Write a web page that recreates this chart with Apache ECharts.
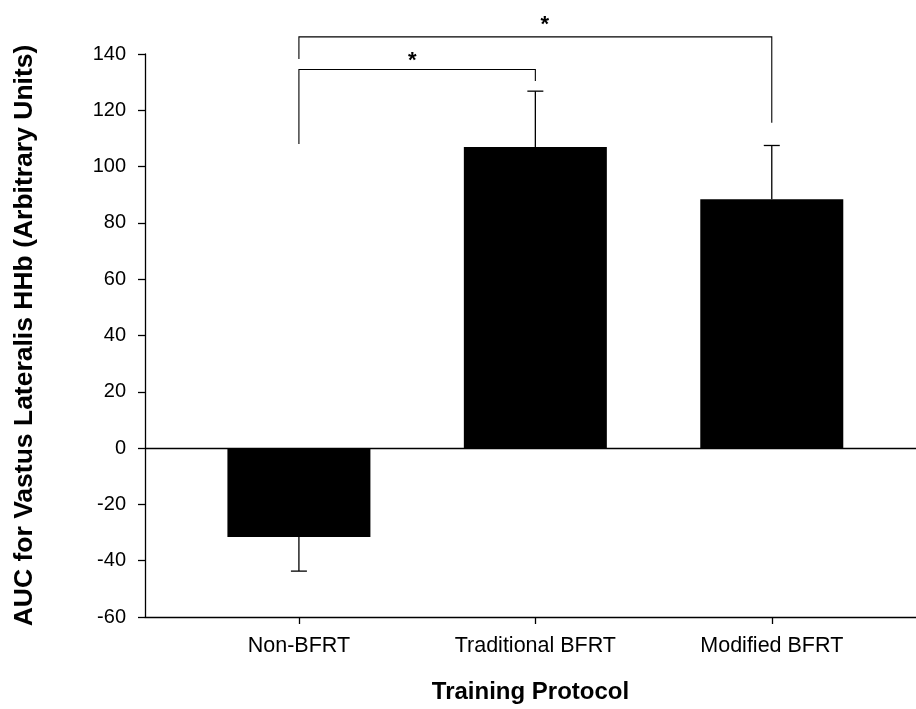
<!DOCTYPE html>
<html>
<head>
<meta charset="utf-8">
<script src="https://cdn.jsdelivr.net/npm/echarts@6/dist/echarts.min.js"></script>
<style>
html,body{margin:0;padding:0;background:#fff;}
#chart{width:916px;height:709px;}
</style>
</head>
<body>
<div id="chart"></div>
<script>
// ---- data ----
var categories = ['Non-BFRT', 'Traditional BFRT', 'Modified BFRT'];
var categoryPos = [1, 2, 3];
var means = [-31.6, 107.0, 88.4];
var errors = [12.1, 19.8, 19.1];
var yTicks = [-60, -40, -20, 0, 20, 40, 60, 80, 100, 120, 140];

// significance brackets (from category, to category, level, left drop end, right drop end)
var bracketFrom = [1, 1];
var bracketTo = [2, 3];
var bracketLevel = [134.5, 146.1];
var bracketLeftEnd = [108.0, 138.2];
var bracketRightEnd = [130.4, 115.6];
var starX = [1.48, 2.04];
var starY = [137.6, 150.3];
var starText = ['*', '*'];

// ---- build ----
var barData = categoryPos.map(function (p, i) { return [p, means[i]]; });
var errData = categoryPos.map(function (p, i) { return [p, means[i], errors[i]]; });
var bracketData = bracketFrom.map(function (f, i) {
  return [f, bracketTo[i], bracketLevel[i], bracketLeftEnd[i], bracketRightEnd[i]];
});
var starData = starX.map(function (x, i) { return [x, starY[i], starText[i]]; });

var chart = echarts.init(document.getElementById('chart'));
var FONT = 'Liberation Sans, Arial, sans-serif';

chart.setOption({
  backgroundColor: '#fff',
  animation: false,
  grid: { left: 145, right: 0, top: 54, bottom: 92, containLabel: false },
  xAxis: {
    type: 'value',
    min: 0.349,
    max: 3.61,
    name: 'Training Protocol',
    nameLocation: 'middle',
    nameGap: 63,
    nameTextStyle: { fontFamily: FONT, fontSize: 24, fontWeight: 'bold', color: '#000', verticalAlign: 'top' },
    axisLine: { show: true, onZero: false, lineStyle: { color: '#000', width: 1.3 } },
    axisTick: { show: true, length: 7, customValues: categoryPos, lineStyle: { color: '#000', width: 1.3 } },
    axisLabel: {
      customValues: categoryPos,
      margin: 18,
      fontFamily: FONT, fontSize: 21.5, color: '#000',
      formatter: function (v) { var i = categoryPos.indexOf(Math.round(v)); return i >= 0 ? categories[i] : ''; }
    },
    splitLine: { show: false }
  },
  yAxis: {
    type: 'value',
    min: -60,
    max: 140,
    interval: 20,
    name: 'AUC for Vastus Lateralis HHb (Arbitrary Units)',
    nameLocation: 'middle',
    nameGap: 107,
    nameTextStyle: { fontFamily: FONT, fontSize: 26.5, fontWeight: 'bold', color: '#000' },
    axisLine: { show: true, onZero: false, lineStyle: { color: '#000', width: 1.3 } },
    axisTick: { show: true, length: 7, lineStyle: { color: '#000', width: 1.3 } },
    axisLabel: { margin: 19, fontFamily: FONT, fontSize: 20, color: '#000',
      formatter: function (v) { return yTicks.indexOf(v) >= 0 ? String(v) : ''; } },
    splitLine: { show: false }
  },
  series: [
    {
      type: 'bar',
      data: barData,
      barWidth: 143,
      itemStyle: { color: '#000' },
      markLine: {
        silent: true,
        symbol: 'none',
        label: { show: false },
        lineStyle: { color: '#000', width: 1.3, type: 'solid' },
        data: [{ yAxis: 0 }]
      }
    },
    {
      type: 'custom',
      data: errData,
      clip: false,
      z: 5,
      renderItem: function (params, api) {
        var x = api.value(0), m = api.value(1), e = api.value(2);
        var end = m + (m < 0 ? -e : e);
        var p0 = api.coord([x, m]);
        var p1 = api.coord([x, end]);
        return {
          type: 'group',
          children: [
            { type: 'line', shape: { x1: p0[0], y1: p0[1], x2: p1[0], y2: p1[1] }, style: { stroke: '#000', lineWidth: 1.3 } },
            { type: 'line', shape: { x1: p1[0] - 8, y1: p1[1], x2: p1[0] + 8, y2: p1[1] }, style: { stroke: '#000', lineWidth: 1.3 } }
          ]
        };
      }
    },
    {
      type: 'custom',
      data: bracketData,
      clip: false,
      z: 5,
      renderItem: function (params, api) {
        var a = api.value(0), b = api.value(1), lv = api.value(2), le = api.value(3), re = api.value(4);
        var pa = api.coord([a, le]);
        var pt1 = api.coord([a, lv]);
        var pt2 = api.coord([b, lv]);
        var pb = api.coord([b, re]);
        return {
          type: 'polyline',
          shape: { points: [pa, pt1, pt2, pb] },
          style: { stroke: '#000', lineWidth: 1.1, fill: null }
        };
      }
    },
    {
      type: 'custom',
      data: starData,
      clip: false,
      z: 6,
      renderItem: function (params, api) {
        var p = api.coord([api.value(0), api.value(1)]);
        return {
          type: 'text',
          x: p[0], y: p[1],
          style: { text: starText[params.dataIndex], font: 'bold 22px ' + FONT, fill: '#000', align: 'center', verticalAlign: 'middle' }
        };
      }
    }
  ]
});
</script>
</body>
</html>
